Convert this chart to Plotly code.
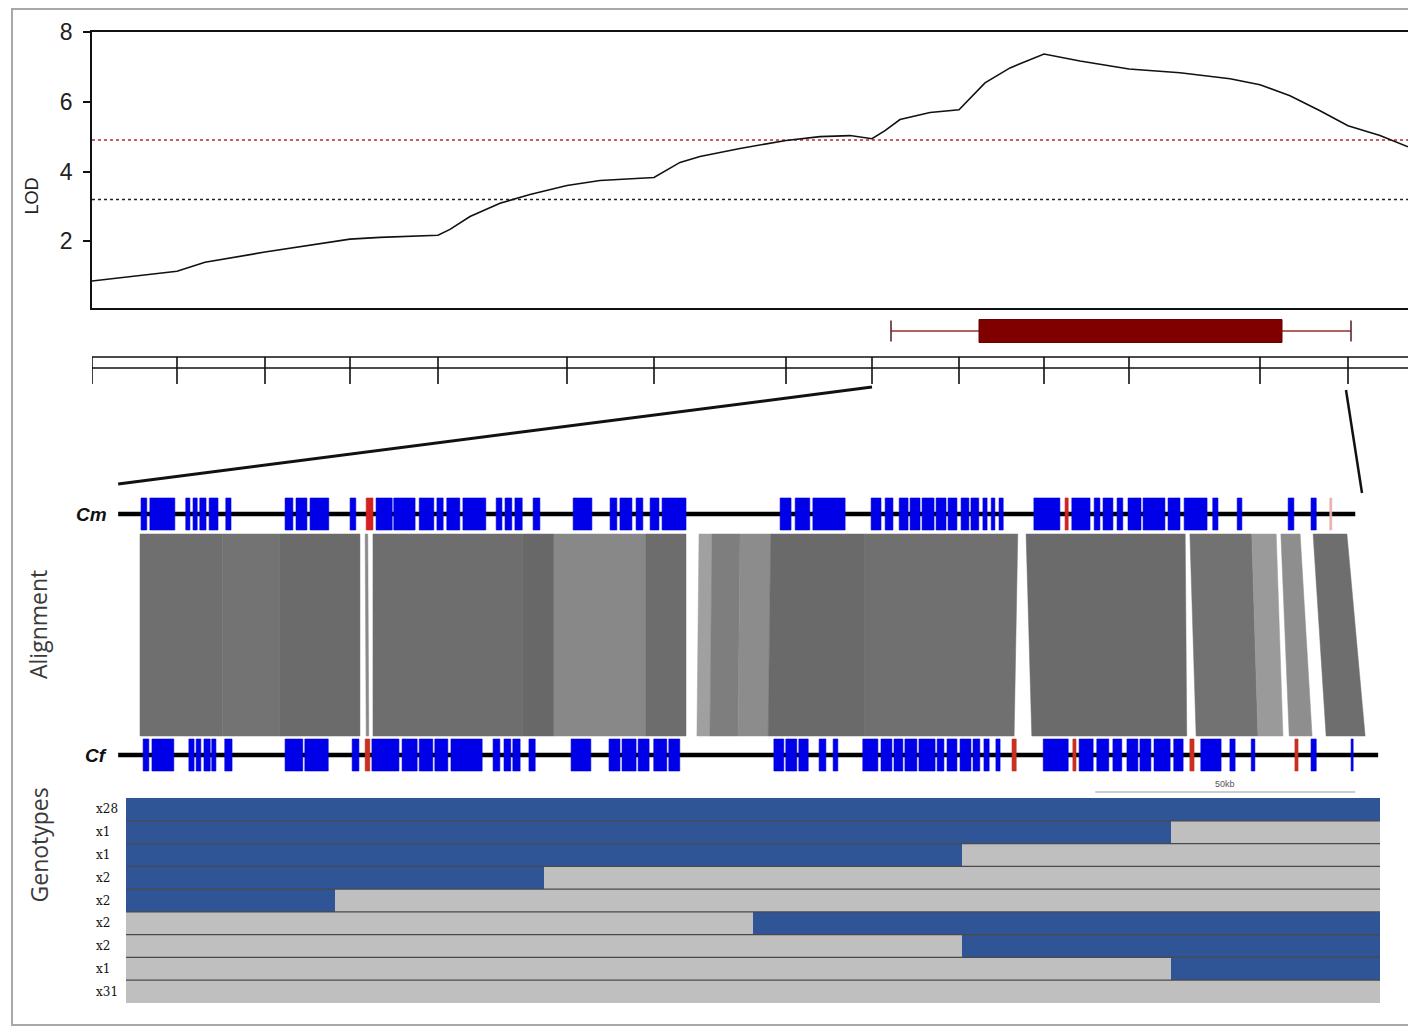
import plotly.graph_objects as go

W, H = 1408, 1028

# ---------------- data ----------------
# LOD profile (position in cM, LOD score)
lod_pos = [0, 8.5, 11.3, 17.3, 25.8, 28.8, 34.6, 35.8, 37.8, 40.8, 43.8, 47.5, 50.8, 56.2,
           58.8, 60.8, 64.8, 69.4, 72.8, 75.8, 78.0, 79.3, 80.8, 83.8, 86.7, 89.3, 91.8,
           95.2, 98.8, 103.7, 108.8, 113.8, 116.8, 119.8, 122.8, 125.6, 128.8, 131.6]
lod_val = [0.86, 1.14, 1.40, 1.69, 2.06, 2.11, 2.17, 2.34, 2.71, 3.09, 3.34, 3.60, 3.74, 3.83,
           4.26, 4.43, 4.66, 4.89, 5.00, 5.03, 4.94, 5.17, 5.49, 5.69, 5.77, 6.54, 6.97,
           7.37, 7.17, 6.94, 6.83, 6.66, 6.49, 6.17, 5.74, 5.31, 5.03, 4.71]
lod_ticks = [2, 4, 6, 8]
threshold_high = 4.9
threshold_low = 3.2

# genetic markers on the linkage map (cM)
marker_pos = [0, 8.5, 17.3, 25.8, 34.6, 47.5, 56.2, 69.4, 78.0, 86.7, 95.2, 103.7, 116.8, 125.6]
ci_outer = [79.9, 125.9]
ci_inner = [88.7, 119.0]
zoom_markers = [78.0, 125.6]

# physical region (kb)
cm_span = [-4.2, 233.7]
cf_span = [-4.2, 238.1]
scale_bar = [183.7, 233.7]
scale_label = "50kb"

cm_genes = [(0.2, 1.3), (1.9, 6.7), (8.8, 9.6), (10.2, 11.0), (11.5, 12.7), (13.3, 15.0), (16.5, 17.5),
            (27.9, 29.4), (30.0, 32.1), (32.7, 36.3), (40.4, 41.5), (45.4, 48.5), (48.8, 52.9),
            (53.7, 56.5), (57.1, 58.3), (59.0, 61.5), (62.1, 66.5), (68.5, 69.6), (70.2, 71.5),
            (72.1, 73.5), (75.6, 76.9), (83.3, 86.9), (90.4, 91.7), (92.3, 94.6), (95.4, 96.7),
            (98.1, 99.8), (100.4, 105.0), (123.1, 125.2), (126.0, 128.8), (129.4, 135.6),
            (140.6, 142.5), (143.3, 144.8), (146.0, 147.7), (148.1, 150.0), (150.4, 152.7),
            (153.1, 155.0), (155.4, 157.1), (157.9, 159.4), (159.8, 161.3), (162.1, 162.9),
            (163.7, 164.4), (165.2, 166.0), (171.9, 176.9), (179.2, 182.7), (183.5, 184.6),
            (185.2, 187.1), (187.9, 189.0), (190.0, 192.5), (192.9, 197.1), (197.7, 200.0),
            (200.8, 205.2), (206.3, 207.3), (211.0, 211.9), (220.8, 221.9), (225.2, 226.2)]
cm_red = [(43.5, 44.8), (177.9, 178.5)]
cm_faint = [(228.8, 229.2)]

cf_genes = [(0.6, 1.7), (2.3, 6.5), (9.4, 10.4), (10.8, 11.7), (12.3, 13.5), (13.8, 14.6), (16.3, 17.7),
            (27.9, 31.3), (31.7, 36.2), (40.8, 42.1), (44.6, 49.8), (50.4, 53.3), (53.7, 56.3),
            (56.7, 59.2), (59.8, 65.8), (67.9, 69.2), (70.0, 71.3), (71.7, 73.1), (74.8, 76.0),
            (82.9, 86.7), (90.2, 92.3), (92.7, 95.4), (95.8, 97.9), (98.8, 101.3), (101.7, 103.8),
            (121.9, 123.8), (124.2, 126.3), (126.7, 128.5), (130.6, 131.9), (133.3, 134.2),
            (139.0, 141.9), (142.5, 144.6), (145.0, 146.7), (147.1, 149.4), (149.8, 152.9),
            (153.3, 154.6), (155.2, 157.1), (157.7, 159.8), (160.2, 161.5), (162.3, 163.3),
            (164.6, 165.4), (173.7, 178.5), (180.6, 183.3), (184.0, 186.3), (187.1, 188.8),
            (189.8, 191.9), (192.3, 194.4), (195.0, 198.1), (198.8, 200.6), (204.0, 207.9),
            (209.6, 210.6), (213.7, 214.4), (225.2, 226.2), (232.9, 233.3)]
cf_red = [(43.3, 44.2), (167.7, 168.5), (179.4, 180.0), (201.9, 202.7), (222.1, 222.7)]

# synteny blocks: Cm start/end, Cf start/end (kb) and shade
aln_cm_start = [0, 15.8, 26.9, 43.3, 44.8, 73.5, 79.6, 97.3, 107.5, 110.0, 115.4, 121.3, 139.4, 170.4, 201.9, 213.8, 219.4, 225.6]
aln_cm_end = [15.8, 26.9, 42.3, 43.8, 73.5, 79.6, 97.3, 105.0, 110.0, 115.4, 121.3, 139.4, 168.8, 201.0, 213.8, 218.5, 223.1, 232.1]
aln_cf_start = [0, 15.8, 26.9, 43.5, 44.8, 73.5, 79.6, 97.3, 107.1, 109.6, 115.0, 120.8, 139.4, 171.5, 203.1, 215.0, 221.0, 228.1]
aln_cf_end = [15.8, 26.9, 42.3, 44.0, 73.5, 79.6, 97.3, 105.0, 109.6, 115.0, 120.8, 139.4, 168.1, 201.3, 215.0, 219.8, 225.4, 235.6]
aln_shade = ['#6f6f6f', '#737373', '#6b6b6b', '#8a8a8a', '#6e6e6e', '#686868', '#888888', '#6d6d6d',
             '#a0a0a0', '#7e7e7e', '#8c8c8c', '#6a6a6a', '#707070', '#6b6b6b', '#727272', '#9a9a9a',
             '#8e8e8e', '#6e6e6e']

# genotype classes (1 = Cm allele, 0 = Cf allele) over 6 intervals
geno_labels = ["x28", "x1", "x1", "x2", "x2", "x2", "x2", "x1", "x31"]
geno_matrix = [[1, 1, 1, 1, 1, 1],
               [1, 1, 1, 1, 1, 0],
               [1, 1, 1, 1, 0, 0],
               [1, 1, 0, 0, 0, 0],
               [1, 0, 0, 0, 0, 0],
               [0, 0, 0, 1, 1, 1],
               [0, 0, 0, 0, 1, 1],
               [0, 0, 0, 0, 0, 1],
               [0, 0, 0, 0, 0, 0]]
geno_bins = [0.5, 1.5, 2.5, 3.5, 4.5, 5.5]

# ---------------- layout constants ----------------
LOD_XDOM = [92 / W, 1.0]
LOD_XR = [0, 131.6]
LOD_YDOM = [1 - 308 / H, 1 - 32 / H]
LOD_YR = [0.086, 8]
RUL_YDOM = [1 - 395 / H, 1 - 315 / H]
RUL_YR = [0, 80]
ALN_XDOM = [0, 1]
ALN_XR = [-26.923, 243.846]
ALN_YDOM = [1 - 800 / H, 1 - 490 / H]
ALN_YR = [0, 310]
GEN_XDOM = [126 / W, 1380 / W]
GEN_YDOM = [1 - 1003 / H, 1 - 798 / H]

RUL_TOP, RUL_BOT, TICK_END = 38, 27, 11
CI_Y, CI_HALF, CAP_HALF = 64, 11.5, 10.5
CM_Y, CF_Y, GENE_HALF = 286, 45, 16
ALN_TOP, ALN_BOT = 266, 64
SCALE_Y = 8


def lin(v, rng, dom):
    return dom[0] + (v - rng[0]) / (rng[1] - rng[0]) * (dom[1] - dom[0])


def rects(intervals, yc, half):
    xs, ys = [], []
    for s, e in intervals:
        xs += [s, e, e, s, s, None]
        ys += [yc - half, yc - half, yc + half, yc + half, yc - half, None]
    return xs, ys


fig = go.Figure()

# ---- LOD panel ----
fig.add_trace(go.Scatter(x=[LOD_XR[0], LOD_XR[1]], y=[threshold_high] * 2, mode='lines',
                         line=dict(color='#b82a2a', width=1.5, dash='3px,3px'), xaxis='x', yaxis='y'))
fig.add_trace(go.Scatter(x=[LOD_XR[0], LOD_XR[1]], y=[threshold_low] * 2, mode='lines',
                         line=dict(color='#222222', width=1.5, dash='3px,3px'), xaxis='x', yaxis='y'))
fig.add_trace(go.Scatter(x=lod_pos, y=lod_val, mode='lines',
                         line=dict(color='#111111', width=1.6), xaxis='x', yaxis='y'))

# ---- linkage map ruler & confidence interval ----
for yv in (RUL_TOP, RUL_BOT):
    fig.add_trace(go.Scatter(x=[marker_pos[0], LOD_XR[1]], y=[yv, yv], mode='lines',
                             line=dict(color='#111', width=1.6), xaxis='x', yaxis='y2'))
fig.add_trace(go.Scatter(x=[marker_pos[0], marker_pos[0] - 0.45, marker_pos[0]],
                         y=[RUL_TOP, (RUL_TOP + RUL_BOT) / 2, RUL_BOT], mode='lines',
                         line=dict(color='#111', width=1.6, shape='spline'), xaxis='x', yaxis='y2',
                         cliponaxis=False))
tx, ty = [], []
for m in marker_pos:
    tx += [m, m, None]
    ty += [RUL_TOP, TICK_END, None]
fig.add_trace(go.Scatter(x=tx, y=ty, mode='lines', line=dict(color='#111', width=1.6),
                         xaxis='x', yaxis='y2'))
fig.add_trace(go.Scatter(x=ci_outer, y=[CI_Y, CI_Y], mode='lines',
                         line=dict(color='#9a2b2b', width=1.5), xaxis='x', yaxis='y2'))
fig.add_trace(go.Scatter(x=[ci_outer[0], ci_outer[0], None, ci_outer[1], ci_outer[1]],
                         y=[CI_Y - CAP_HALF, CI_Y + CAP_HALF, None, CI_Y - CAP_HALF, CI_Y + CAP_HALF],
                         mode='lines', line=dict(color='#5a2a2a', width=1.6), xaxis='x', yaxis='y2'))
bx, by = rects([tuple(ci_inner)], CI_Y, CI_HALF)
fig.add_trace(go.Scatter(x=bx, y=by, mode='lines', fill='toself', fillcolor='#800000',
                         line=dict(color='#6a0000', width=1), xaxis='x', yaxis='y2'))

# ---- alignment panel ----
for cs, ce, fs, fe, col in zip(aln_cm_start, aln_cm_end, aln_cf_start, aln_cf_end, aln_shade):
    fig.add_trace(go.Scatter(x=[cs, ce, fe, fs, cs], y=[ALN_TOP, ALN_TOP, ALN_BOT, ALN_BOT, ALN_TOP],
                             mode='lines', fill='toself', fillcolor=col,
                             line=dict(color=col, width=0.5), xaxis='x3', yaxis='y3'))

fig.add_trace(go.Scatter(x=cm_span, y=[CM_Y, CM_Y], mode='lines', line=dict(color='black', width=4.5),
                         xaxis='x3', yaxis='y3'))
fig.add_trace(go.Scatter(x=cf_span, y=[CF_Y, CF_Y], mode='lines', line=dict(color='black', width=4.5),
                         xaxis='x3', yaxis='y3'))

for genes, yc, col in ((cm_genes, CM_Y, '#0000e8'), (cf_genes, CF_Y, '#0000e8'),
                       (cm_red, CM_Y, '#d42020'), (cf_red, CF_Y, '#c83020'),
                       (cm_faint, CM_Y, '#eab0b0')):
    gx, gy = rects(genes, yc, GENE_HALF)
    fig.add_trace(go.Scatter(x=gx, y=gy, mode='lines', fill='toself', fillcolor=col,
                             line=dict(color=col, width=0.6), xaxis='x3', yaxis='y3'))

fig.add_trace(go.Scatter(x=scale_bar, y=[SCALE_Y, SCALE_Y], mode='lines',
                         line=dict(color='#c9cdd2', width=2), xaxis='x3', yaxis='y3'))

# ---- genotypes panel ----
fig.add_trace(go.Heatmap(z=geno_matrix, x=geno_bins, y=list(range(len(geno_labels))),
                         colorscale=[[0, '#bfbfbf'], [1, '#2f5597']], zmin=0, zmax=1,
                         showscale=False, xaxis='x4', yaxis='y4', hoverinfo='skip'))
sx, sy = [], []
for k in range(len(geno_labels) - 1):
    sx += [0, 6, None]
    sy += [k + 0.5, k + 0.5, None]
fig.add_trace(go.Scatter(x=sx, y=sy, mode='lines', line=dict(color='#4a4a4a', width=1.2),
                         xaxis='x4', yaxis='y4'))

# ---- annotations ----
ann = []
ann.append(dict(text='LOD', x=19 / W, y=1 - 176 / H, xref='paper', yref='paper', showarrow=False,
                textangle=-90, font=dict(family='Liberation Sans', size=18, color='#222')))
ann.append(dict(text='Alignment', x=20 / W, y=1 - 625 / H, xref='paper', yref='paper', showarrow=False,
                textangle=-90, font=dict(family='Open Sans', size=23, color='#3a3a3a')))
ann.append(dict(text='Genotypes', x=20 / W, y=1 - 905 / H, xref='paper', yref='paper', showarrow=False,
                textangle=-90, font=dict(family='Open Sans', size=23, color='#3a3a3a')))
ann.append(dict(text='<b><i>Cm</i></b>', x=-6.0, y=CM_Y, xref='x3', yref='y3', showarrow=False,
                xanchor='right', font=dict(family='Liberation Sans', size=19, color='#111')))
ann.append(dict(text='<b><i>Cf</i></b>', x=-6.0, y=CF_Y, xref='x3', yref='y3', showarrow=False,
                xanchor='right', font=dict(family='Liberation Sans', size=19, color='#111')))
ann.append(dict(text=scale_label, x=(scale_bar[0] + scale_bar[1]) / 2, y=SCALE_Y + 8, xref='x3', yref='y3',
                showarrow=False, font=dict(family='Liberation Sans', size=9, color='#555')))
for i, lab in enumerate(geno_labels):
    ann.append(dict(text=lab, x=94 / W, y=i, xref='paper', yref='y4', showarrow=False, xanchor='left',
                    font=dict(family='DejaVu Serif', size=12, color='#111')))

# ---- connector lines & outer frame ----
shapes = []
shapes.append(dict(type='line', xref='paper', yref='paper',
                   x0=lin(zoom_markers[0], LOD_XR, LOD_XDOM), y0=lin(TICK_END - 3, RUL_YR, RUL_YDOM),
                   x1=lin(cm_span[0], ALN_XR, ALN_XDOM), y1=lin(CM_Y + 30, ALN_YR, ALN_YDOM),
                   line=dict(color='#111', width=3)))
shapes.append(dict(type='line', xref='paper', yref='paper',
                   x0=lin(zoom_markers[1] - 0.2, LOD_XR, LOD_XDOM), y0=lin(TICK_END - 6, RUL_YR, RUL_YDOM),
                   x1=lin(cm_span[1] + 1.3, ALN_XR, ALN_XDOM), y1=lin(CM_Y + 21, ALN_YR, ALN_YDOM),
                   line=dict(color='#111', width=2.5)))
shapes.append(dict(type='rect', xref='paper', yref='paper', x0=12 / W, y0=1 - 1025 / H, x1=1.02, y1=1 - 9 / H,
                   line=dict(color='#a8a8a8', width=2), fillcolor='rgba(0,0,0,0)', layer='below'))

hidden = dict(visible=False, showgrid=False, zeroline=False, fixedrange=True)

fig.update_layout(
    template='none',
    width=W, height=H, autosize=False,
    margin=dict(l=0, r=0, t=0, b=0, pad=0),
    paper_bgcolor='white', plot_bgcolor='white',
    showlegend=False,
    xaxis=dict(domain=LOD_XDOM, range=LOD_XR, anchor='y', showline=True, mirror=True, linecolor='#111',
               linewidth=1.6, showticklabels=False, ticks='', showgrid=False, zeroline=False, automargin=False),
    yaxis=dict(domain=LOD_YDOM, range=LOD_YR, anchor='x', showline=True, linecolor='#111', linewidth=1.6,
               tickvals=lod_ticks, ticks='outside', ticklen=7, tickwidth=1.6, tickcolor='#111',
               ticklabelstandoff=6, tickfont=dict(family='Liberation Sans', size=23, color='#222'),
               showgrid=False, zeroline=False, automargin=False),
    yaxis2=dict(domain=RUL_YDOM, range=RUL_YR, anchor='x', **hidden),
    xaxis3=dict(domain=ALN_XDOM, range=ALN_XR, anchor='y3', **hidden),
    yaxis3=dict(domain=ALN_YDOM, range=ALN_YR, anchor='x3', **hidden),
    xaxis4=dict(domain=GEN_XDOM, range=[0, 6], anchor='y4', **hidden),
    yaxis4=dict(domain=GEN_YDOM, range=[len(geno_labels) - 0.5, -0.5], anchor='x4', **hidden),
    annotations=ann,
    shapes=shapes,
)

fig.write_html("out.html")
